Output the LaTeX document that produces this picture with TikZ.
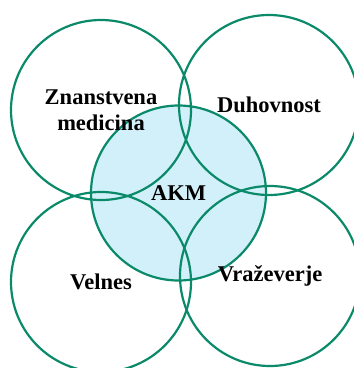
\documentclass[tikz,border=0pt]{standalone}
\usepackage{fontspec}
\setmainfont{Liberation Serif}
\usepackage{tikz}
\usetikzlibrary{positioning}
\definecolor{ring}{HTML}{0B8A6A}
\definecolor{core}{HTML}{D2F0FA}

\begin{document}
\begin{tikzpicture}[x=1pt, y=-1pt, every node/.style={font=\fontsize{22.5}{26}\selectfont\bfseries, align=center},
    area/.style={circle, draw=ring, line width=2.2pt, minimum size=180pt, inner sep=0pt}]
        \useasboundingbox (0,0) rectangle (354,368);
        \node[area, fill=core, minimum size=175pt] (akm) at (178.5,193) {AKM};
        \foreach \nm/\cx/\cy/\l in {znan/101/110/{Znanstvena\\medicina}, duh/269/105/{Duhovnost},
          vel/101/282/{Velnes}, vraz/270/276/{Vraževerje}}{
          \node[area] (\nm) at (\cx,\cy) {\l};
        }
      \end{tikzpicture}
\end{document}
